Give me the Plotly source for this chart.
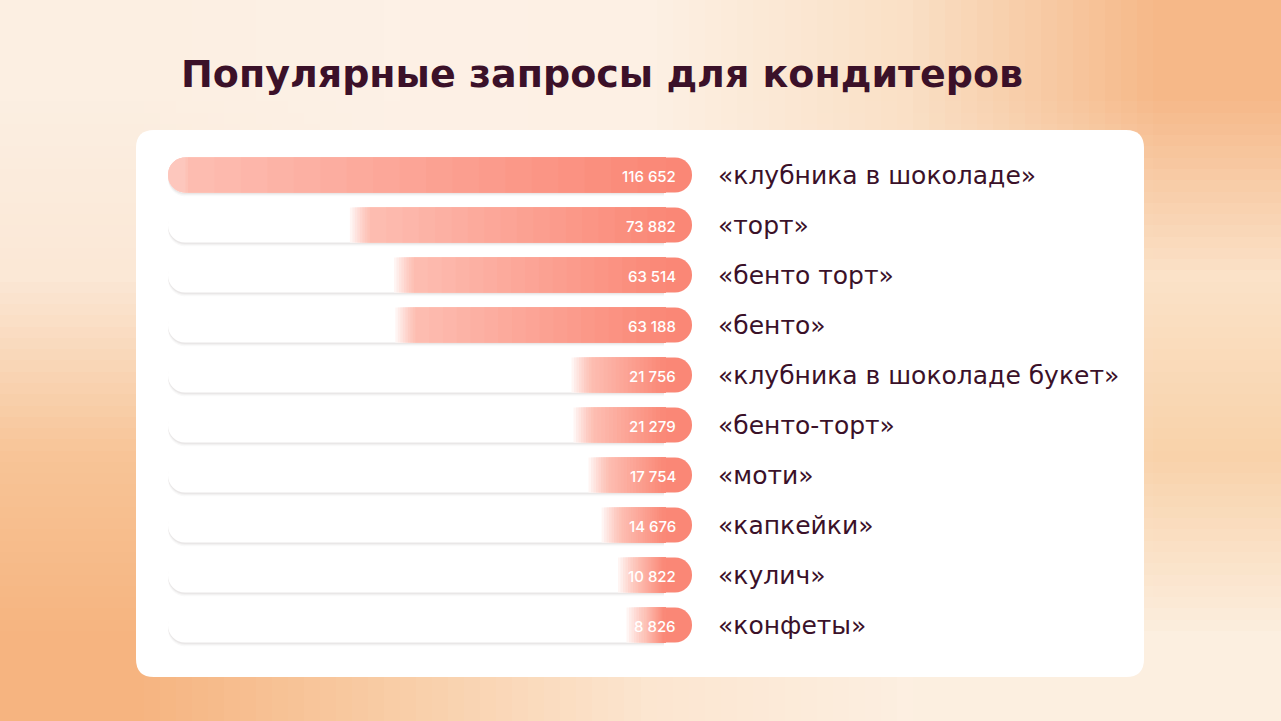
import base64
import struct
import zlib

import plotly.graph_objects as go

W, H = 1281, 721

queries = [
    "«клубника в шоколаде»",
    "«торт»",
    "«бенто торт»",
    "«бенто»",
    "«клубника в шоколаде букет»",
    "«бенто-торт»",
    "«моти»",
    "«капкейки»",
    "«кулич»",
    "«конфеты»",
]
counts = [116652, 73882, 63514, 63188, 21756, 21279, 17754, 14676, 10822, 8826]

TITLE = "Популярные запросы для кондитеров"

INK = "#3b1129"
DEEP = (250, 135, 118)
LIGHT = (253, 190, 178)
WHITE = (255, 255, 255)
LABEL_FONT = "DejaVu Sans"
VALUE_FONT = "Inter"

# rough colour grid of the peach backdrop (cols left->right, rows top->bottom)
BG_GRID = [
    ["#fcefe2", "#fdf1e6", "#fdf0e4", "#fae0c6", "#f6b888"],
    ["#fbe8d6", "#fdf0e5", "#fdf0e5", "#fbe4cc", "#fbe2c8"],
    ["#f8c497", "#fbe0c6", "#fdeee0", "#fbe6d0", "#f9d2aa"],
    ["#f6b480", "#f9cda6", "#fce6d0", "#fdefe1", "#fcefe0"],
]


def hex_rgb(h):
    h = h.lstrip("#")
    return tuple(int(h[i:i + 2], 16) for i in (0, 2, 4))


def png_uri(grid):
    rows = [[hex_rgb(c) for c in row] for row in grid]
    h, w = len(rows), len(rows[0])
    raw = b"".join(b"\x00" + bytes(v for px in row for v in px) for row in rows)

    def chunk(tag, data):
        return (struct.pack(">I", len(data)) + tag + data
                + struct.pack(">I", zlib.crc32(tag + data) & 0xFFFFFFFF))

    png = (b"\x89PNG\r\n\x1a\n"
           + chunk(b"IHDR", struct.pack(">IIBBBBB", w, h, 8, 2, 0, 0, 0))
           + chunk(b"IDAT", zlib.compress(raw))
           + chunk(b"IEND", b""))
    return "data:image/png;base64," + base64.b64encode(png).decode()


def mix(a, b, t):
    return "rgb(%d,%d,%d)" % tuple(round(a[i] + (b[i] - a[i]) * t) for i in range(3))


def rounded_box(x0, y0, x1, y1, r):
    # pixel box -> paper-space path with rounded corners
    fx = lambda px: px / W
    fy = lambda py: 1 - py / H
    return (f"M{fx(x0 + r)},{fy(y0)} L{fx(x1 - r)},{fy(y0)} Q{fx(x1)},{fy(y0)} {fx(x1)},{fy(y0 + r)} "
            f"L{fx(x1)},{fy(y1 - r)} Q{fx(x1)},{fy(y1)} {fx(x1 - r)},{fy(y1)} "
            f"L{fx(x0 + r)},{fy(y1)} Q{fx(x0)},{fy(y1)} {fx(x0)},{fy(y1 - r)} "
            f"L{fx(x0)},{fy(y0 + r)} Q{fx(x0)},{fy(y0)} {fx(x0 + r)},{fy(y0)} Z")


n = len(counts)
idx = list(range(n))
vmax = max(counts)

# track runs 168..692 px; zero sits at 664 px, the last 28 px are the rounded cap
TRACK_L, ZERO_PX, TRACK_R = 168, 664, 692
per_px = vmax / (ZERO_PX - TRACK_L)
pad = (TRACK_R - ZERO_PX) * per_px
fade = 20 * per_px
BAR_W = 0.70
R = 17
N_MAIN, N_FADE = 18, 8

fig = go.Figure()

# soft shadow under the tracks
for off, a in [(0.075, 0.04), (0.05, 0.05), (0.03, 0.06)]:
    fig.add_trace(go.Bar(
        y=idx, x=[vmax] * n, orientation="h", width=BAR_W, offset=-BAR_W / 2 + off,
        marker=dict(color=f"rgba(110,90,90,{a})", cornerradius=R, line_width=0),
        hoverinfo="skip",
    ))
# white track
fig.add_trace(go.Bar(
    y=idx, x=[vmax] * n, orientation="h", width=BAR_W,
    marker=dict(color="#ffffff", cornerradius=R, line_width=0),
    hoverinfo="skip",
))

# filled part: nested bars from zero, longest (palest) first, so no seams
main = [max(v - fade, 0) for v in counts]
for j in reversed(range(N_FADE)):
    fig.add_trace(go.Bar(
        y=idx, x=[m + (v - m) * (j + 1) / N_FADE for v, m in zip(counts, main)],
        orientation="h", width=BAR_W,
        marker=dict(color=mix(LIGHT, WHITE, 0.85 * ((j + 1) / N_FADE) ** 1.3),
                    cornerradius=R, line_width=0),
        hoverinfo="skip",
    ))

# rounded right-hand caps beyond zero
fig.add_trace(go.Bar(
    y=idx, x=[-pad] * n, orientation="h", width=BAR_W,
    marker=dict(color=mix(DEEP, DEEP, 0), cornerradius=R, line_width=0),
    hoverinfo="skip",
))

# colour ramp, each bar poking 2 px into the cap so the join has no seam
for k in reversed(range(N_MAIN)):
    fig.add_trace(go.Bar(
        y=idx, x=[m * (k + 1) / N_MAIN + 2 * per_px for m in main], base=[-2 * per_px] * n,
        orientation="h", width=BAR_W,
        marker=dict(color=mix(DEEP, LIGHT, (k + 0.5) / N_MAIN), line_width=0),
        hoverinfo="skip",
    ))

for i, (q, v) in enumerate(zip(queries, counts)):
    fig.add_annotation(
        x=0, y=i, xref="x", yref="y", xanchor="right", yanchor="middle",
        xshift=TRACK_R - ZERO_PX - 14, yshift=-1, showarrow=False,
        text=f"{v:,}".replace(",", " "),
        font=dict(family=VALUE_FONT, size=15, color="#ffffff", weight=500),
    )
    fig.add_annotation(
        x=716 / W, y=i, xref="paper", yref="y", xanchor="left", yanchor="middle",
        showarrow=False, text=q,
        font=dict(family=LABEL_FONT, size=25, color=INK),
    )

fig.add_annotation(
    x=179 / W, y=1 - 74 / H, xref="paper", yref="paper", xanchor="left", yanchor="middle",
    showarrow=False, text=f"<b>{TITLE}</b>",
    font=dict(family=LABEL_FONT, size=38, color=INK),
)

fig.add_shape(type="path", xref="paper", yref="paper", layer="below",
              path=rounded_box(136, 130, 1144, 677, 18),
              fillcolor="#ffffff", line_width=0)

fig.update_layout(
    width=W, height=H,
    margin=dict(l=0, r=0, t=0, b=0),
    paper_bgcolor="#fcefe2", plot_bgcolor="rgba(0,0,0,0)",
    barmode="overlay", showlegend=False,
    images=[dict(source=png_uri(BG_GRID), xref="paper", yref="paper", x=0, y=1,
                 sizex=1, sizey=1, sizing="stretch", layer="below")],
    xaxis=dict(domain=[TRACK_L / W, TRACK_R / W], range=[vmax, -pad], visible=False, fixedrange=True),
    yaxis=dict(domain=[1 - 650 / H, 1 - 150 / H], range=[n - 0.5, -0.5], visible=False, fixedrange=True),
)

fig.write_html("out.html", config={"displayModeBar": False},
               post_script="document.body.style.margin='0';")
